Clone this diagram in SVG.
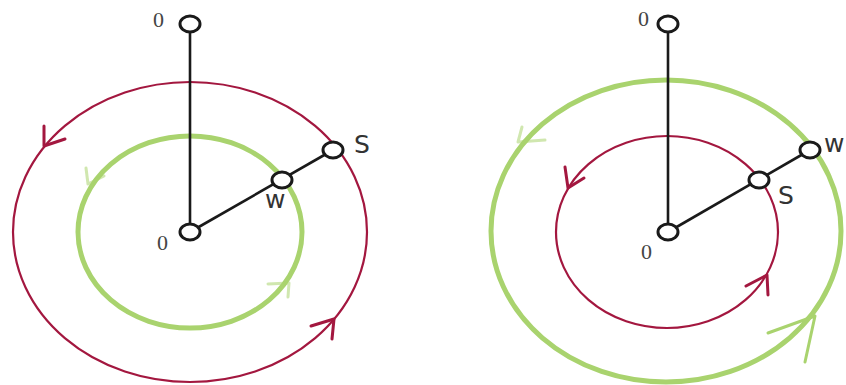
<svg xmlns="http://www.w3.org/2000/svg" width="846" height="385" viewBox="0 0 846 385">
<style>
.red{fill:none;stroke:#a3173f;stroke-width:2.2}
.grn{fill:none;stroke:#a9d36e;stroke-width:5}
.ah{fill:none;stroke:#a3173f;stroke-width:3;stroke-linecap:round;stroke-linejoin:round}
.ag{fill:none;stroke:#a9d36e;stroke-width:3;stroke-linecap:round;stroke-linejoin:round}
.bar{stroke:#1a1a1a;stroke-width:2.6}
.node{fill:#fff;stroke:#1a1a1a;stroke-width:3}
.num{font-family:"Liberation Serif",serif;font-size:22px;fill:#444}
.lbl{font-family:"DejaVu Sans",sans-serif;font-size:25px;fill:#333}
</style>
<rect width="846" height="385" fill="#fff"/>
<g id="left">
<g id="curves-left">
<ellipse class="red" cx="190" cy="232" rx="177" ry="150"/>
<ellipse class="grn" cx="190" cy="232" rx="112" ry="96"/>
<path class="ah" d="M44,126 L44,146 L65,139"/>
<path class="ah" d="M311,326 L334,319 L332,339"/>
<path class="ag" d="M86,168 L88,184 L104,176" opacity="0.55"/>
<path class="ag" d="M268,284 L289,283 L288,297" opacity="0.55"/>
</g>
<g id="bars-left">
<line class="bar" x1="190" y1="24" x2="190" y2="232"/>
<line class="bar" x1="190" y1="232" x2="333" y2="150"/>
</g>
<g id="n-top-left"><ellipse class="node" cx="190" cy="24" rx="10" ry="8"/><text class="num" x="153" y="27">0</text></g>
<g id="n-center-left"><ellipse class="node" cx="190" cy="232" rx="10" ry="8"/><text class="num" x="157" y="250">0</text></g>
<g id="n-w-left"><ellipse class="node" cx="282" cy="180" rx="10" ry="8"/><text class="lbl" x="265" y="208">w</text></g>
<g id="n-s-left"><ellipse class="node" cx="333" cy="150" rx="10" ry="8"/><text class="lbl" x="354" y="153">S</text></g>
</g>
<g id="right">
<g id="curves-right">
<ellipse class="grn" cx="666" cy="231" rx="175" ry="151"/>
<ellipse class="red" cx="667" cy="232" rx="111" ry="96"/>
<path class="ah" d="M565,167 L568,188 L584,178"/>
<path class="ah" d="M746,286 L767,275 L768,295"/>
<path class="ag" d="M522,127 L518,142 L545,140" opacity="0.55"/>
<path class="ag" d="M768,333 L815,316 L805,362" stroke-width="5"/>
</g>
<g id="bars-right">
<line class="bar" x1="668" y1="24" x2="668" y2="232"/>
<line class="bar" x1="668" y1="232" x2="810" y2="150"/>
</g>
<g id="n-top-right"><ellipse class="node" cx="668" cy="24" rx="10" ry="8"/><text class="num" x="638" y="26">0</text></g>
<g id="n-center-right"><ellipse class="node" cx="668" cy="232" rx="10" ry="8"/><text class="num" x="641" y="259">0</text></g>
<g id="n-s-right"><ellipse class="node" cx="759" cy="180" rx="10" ry="8"/><text class="lbl" x="778" y="204">S</text></g>
<g id="n-w-right"><ellipse class="node" cx="810" cy="150" rx="10" ry="8"/><text class="lbl" x="824" y="152" font-size="23">w</text></g>
</g>
</svg>
